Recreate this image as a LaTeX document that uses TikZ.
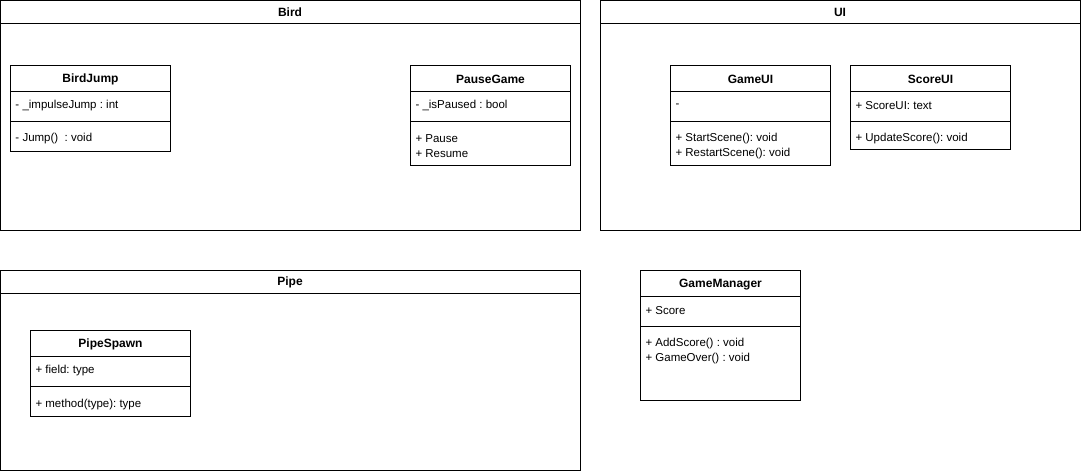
\documentclass[tikz,border=0pt]{standalone}
\usepackage{fontspec}
\setmainfont{Liberation Sans}
\frenchspacing
\begin{document}
\begin{tikzpicture}[x=1pt,y=-1pt, line width=1pt,
 box/.style={draw, fill=white, inner sep=0pt, outer sep=0pt, anchor=north west},
 ttl/.style={font=\fontsize{12}{15}\selectfont\bfseries, inner sep=0pt, yshift=-1pt},
 txt/.style={font=\fontsize{11.5}{15}\selectfont\frenchspacing, inner sep=0pt, anchor=west, align=left, yshift=-1.5pt}]
\useasboundingbox (0,0) rectangle (1081,471);
\fill[white] (0,0) rectangle (1081,471);

% Packages
\node[box, minimum width=580pt, minimum height=230pt] (bird) at (0.5,0.5) {};
\draw ([yshift=-23pt]bird.north west) -- ([yshift=-23pt]bird.north east);
\node[ttl] (birdt) at (290,11.5) {Bird};

\node[box, minimum width=480pt, minimum height=230pt] (ui) at (600.5,0.5) {};
\draw ([yshift=-23pt]ui.north west) -- ([yshift=-23pt]ui.north east);
\node[ttl] (uit) at (840,11.5) {UI};

\node[box, minimum width=580pt, minimum height=200pt] (pipe) at (0.5,270.5) {};
\draw ([yshift=-23pt]pipe.north west) -- ([yshift=-23pt]pipe.north east);
\node[ttl] (pipet) at (290,281.5) {Pipe};

% BirdJump
\node[box, minimum width=160pt, minimum height=86pt] (bj) at (10.5,65.5) {};
\draw ([yshift=-26pt]bj.north west) -- ([yshift=-26pt]bj.north east);
\draw ([yshift=-56pt]bj.north west) -- ([yshift=-56pt]bj.north east);
\node[ttl] (bjt) at (90.5,78.5) {BirdJump};
\node[txt] (bja) at (15,104) {- \_impulseJump : int};
\node[txt] (bjm) at (15,137) {- Jump()~~: void};

% PauseGame
\node[box, minimum width=160pt, minimum height=100pt] (pg) at (410.5,65.5) {};
\draw ([yshift=-26pt]pg.north west) -- ([yshift=-26pt]pg.north east);
\draw ([yshift=-56pt]pg.north west) -- ([yshift=-56pt]pg.north east);
\node[ttl] (pgt) at (490.5,78.5) {PauseGame};
\node[txt] (pga) at (415,104) {- \_isPaused : bool};
\node[txt] (pgm) at (415,144.5) {+ Pause\\+ Resume};

% GameUI
\node[box, minimum width=160pt, minimum height=100pt] (gu) at (670.5,65.5) {};
\draw ([yshift=-26pt]gu.north west) -- ([yshift=-26pt]gu.north east);
\draw ([yshift=-56pt]gu.north west) -- ([yshift=-56pt]gu.north east);
\node[ttl] (gut) at (750.5,78.5) {GameUI};
\node[txt] (gua) at (675,104) {-};
\node[txt] (gum) at (675,144.5) {+ StartScene(): void\\+ RestartScene(): void};

% ScoreUI
\node[box, minimum width=160pt, minimum height=84pt] (su) at (850.5,65.5) {};
\draw ([yshift=-26pt]su.north west) -- ([yshift=-26pt]su.north east);
\draw ([yshift=-56pt]su.north west) -- ([yshift=-56pt]su.north east);
\node[ttl] (sut) at (930.5,78.5) {ScoreUI};
\node[txt] (sua) at (855,104) {+ ScoreUI: text};
\node[txt] (sum) at (855,137) {+ UpdateScore(): void};

% PipeSpawn
\node[box, minimum width=160pt, minimum height=86pt] (ps) at (30.5,330.5) {};
\draw ([yshift=-26pt]ps.north west) -- ([yshift=-26pt]ps.north east);
\draw ([yshift=-56pt]ps.north west) -- ([yshift=-56pt]ps.north east);
\node[ttl] (pst) at (110.5,343.5) {PipeSpawn};
\node[txt] (psa) at (35,369) {+ field: type};
\node[txt] (psm) at (35,403) {+ method(type): type};

% GameManager
\node[box, minimum width=160pt, minimum height=130pt] (gm) at (640.5,270.5) {};
\draw ([yshift=-26pt]gm.north west) -- ([yshift=-26pt]gm.north east);
\draw ([yshift=-56pt]gm.north west) -- ([yshift=-56pt]gm.north east);
\node[ttl] (gmt) at (720.5,283.5) {GameManager};
\node[txt] (gma) at (645,309) {+ Score};
\node[txt] (gmm) at (645,350) {+ AddScore() : void\\+ GameOver() : void};
\end{tikzpicture}
\end{document}
